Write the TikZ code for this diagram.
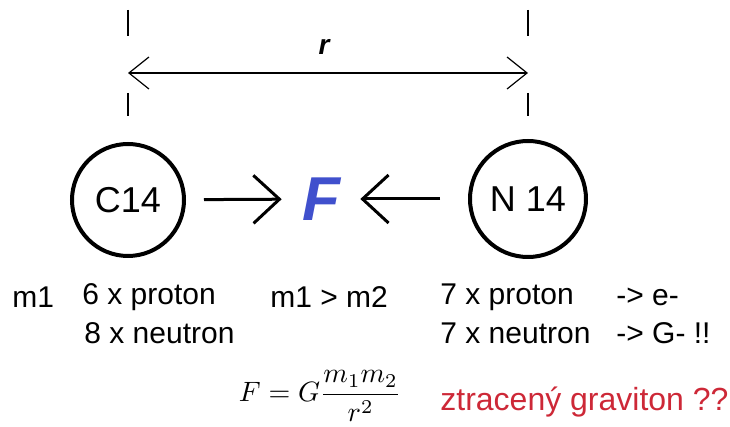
\documentclass[tikz,border=0pt]{standalone}
\usepackage[no-math]{fontspec}
\setmainfont{Liberation Sans}
\usetikzlibrary{arrows.meta}

\definecolor{forceblue}{RGB}{64,80,205}
\definecolor{lostred}{RGB}{205,40,55}

\tikzset{
	atom/.style={circle, draw, line width=2pt, minimum size=56pt, inner sep=0pt, font=\fontsize{18}{20}\selectfont},
	rowtext/.style={anchor=west, inner sep=0pt, font=\fontsize{15}{18}\selectfont},
	tick/.style={line width=0.6pt},
	bigarrow/.style={line width=1.5pt, -{Straight Barb[length=13pt, width=24pt, line width=1.5pt]}},
	distarrow/.style={line width=0.6pt, {Straight Barb[length=10pt, width=16pt]}-{Straight Barb[length=10pt, width=16pt]}}
}

\begin{document}
\begin{tikzpicture}[x=0.5pt, y=-0.5pt]
		\useasboundingbox (0, 0) rectangle (730, 427);

		% Distance r
		\coordinate (lt1) at (128, 10);
		\coordinate (lt2) at (128, 36);
		\coordinate (lt3) at (128, 93);
		\coordinate (lt4) at (128, 116);
		\coordinate (rt1) at (528, 10);
		\coordinate (rt2) at (528, 36);
		\coordinate (rt3) at (528, 93);
		\coordinate (rt4) at (528, 116);
		\coordinate (rl) at (128, 73);
		\coordinate (rr) at (528, 73);

		\draw[tick] (lt1) -- (lt2);
		\draw[tick] (lt3) -- (lt4);
		\draw[tick] (rt1) -- (rt2);
		\draw[tick] (rt3) -- (rt4);
		\draw[distarrow] (rl) -- (rr);
		\node[font=\fontsize{14}{16}\selectfont\bfseries\itshape] (r) at (324, 47) {r};

		% Atoms
		\node[atom] (c14) at (128, 200) {C14};
		\node[atom, minimum size=58pt] (n14) at (528, 199) {N 14};

		% Force
		\node[inner sep=0pt, text=forceblue, font=\fontsize{31}{34}\selectfont\bfseries\itshape] (force) at (321, 199) {F};

		\draw[bigarrow, shorten <=9pt, shorten >=10pt] (c14) -- (force);
		\draw[bigarrow, shorten <=14pt, shorten >=10pt] (n14) -- (force);

		% Nucleons
		\node[rowtext] (m1) at (12, 297) {m1};
		\node[rowtext] (cp) at (82, 297) {6 x proton};
		\node[rowtext] (cn) at (84, 333) {8 x neutron};
		\node[rowtext] (mm) at (270, 297) {m1 > m2};
		\node[rowtext] (np) at (440, 297) {7 x proton};
		\node[rowtext] (ne) at (616, 297) {-> e-};
		\node[rowtext] (nn) at (440, 333) {7 x neutron};
		\node[rowtext] (ng) at (616, 333) {-> G- !!};

		% Gravity
		\node (law) at (320, 396) {\scalebox{1.4}{$\displaystyle F = G\frac{m_1 m_2}{r^2}$}};
		\node[rowtext, text=lostred, font=\fontsize{16}{18}\selectfont] (lost) at (440, 402) {ztracený graviton ??};
	\end{tikzpicture}
\end{document}
